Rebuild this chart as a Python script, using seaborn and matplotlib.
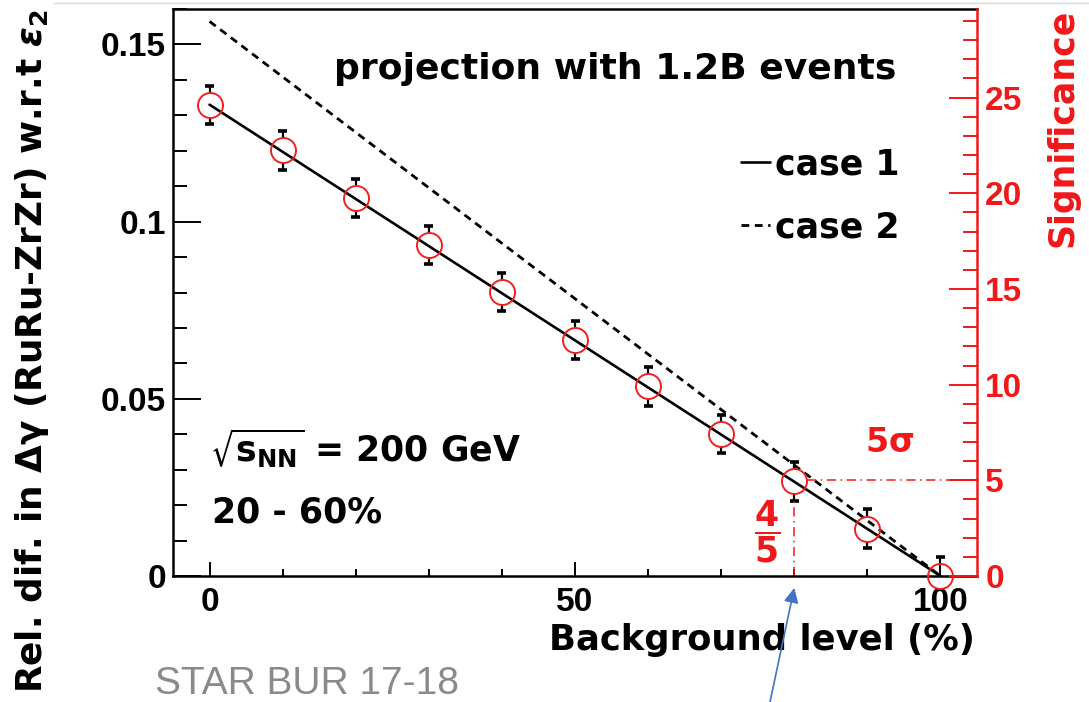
import numpy as np
import pandas as pd
import matplotlib
matplotlib.use("Agg")
import matplotlib.pyplot as plt
import seaborn as sns
from matplotlib.ticker import MultipleLocator, FuncFormatter
from matplotlib.lines import Line2D

# Background level (%) and the relative difference of Delta-gamma
background = [0, 10, 20, 30, 40, 50, 60, 70, 80, 90, 100]
rel_diff = [0.1330, 0.1201, 0.1067, 0.0934, 0.0801, 0.0666, 0.0535, 0.0401, 0.0267, 0.0134, 0.0]
rel_err = [0.0054, 0.0054, 0.0054, 0.0054, 0.0054, 0.0054, 0.0054, 0.0054, 0.0054, 0.0054, 0.0054]

# Projection lines for the two scenarios (end points)
case_x = [0, 100]
case1_y = [0.1330, 0.0]
case2_y = [0.1565, 0.0]
case_labels = ["case 1", "case 2"]

# One unit of significance expressed on the left axis
sigma_unit = 0.0054
five_sigma = 5
threshold_bg = 80

x_range = (-5, 105)
y_range = (0, 0.16)

sns.set_style("ticks")
plt.rcParams["font.family"] = ["DejaVu Sans"]
plt.rcParams["font.weight"] = "bold"
plt.rcParams["mathtext.fontset"] = "dejavusans"
for key in ("text.color", "axes.labelcolor", "xtick.color", "ytick.color",
            "xtick.labelcolor", "ytick.labelcolor"):
    plt.rcParams[key] = "black"

fig = plt.figure(figsize=(10.89, 7.02), dpi=100)
ax = fig.add_axes([173 / 1089, 1 - 576 / 702, (977 - 173) / 1089, (576 - 9) / 702])
ax.set_xlim(*x_range)
ax.set_ylim(*y_range)

df = pd.DataFrame({"bg": background, "val": rel_diff, "err": rel_err})
lines = pd.DataFrame({"bg": case_x * 2, "val": case1_y + case2_y,
                      "case": [case_labels[0]] * 2 + [case_labels[1]] * 2})

sns.lineplot(data=lines[lines["case"] == case_labels[0]], x="bg", y="val", ax=ax,
             color="black", lw=1.9, label=case_labels[0])
sns.lineplot(data=lines[lines["case"] == case_labels[1]], x="bg", y="val", ax=ax,
             color="black", lw=2.0, linestyle=(0, (2.8, 2.0)), label=case_labels[1])

# Error bars, interrupted where the open marker sits
ms = 18
ax_h_px = ax.get_position().height * fig.get_figheight() * fig.dpi
ax_w_px = ax.get_position().width * fig.get_figwidth() * fig.dpi
gap = (ms / 2 * fig.dpi / 72) / ax_h_px * (y_range[1] - y_range[0])
cap = 4.5 / ax_w_px * (x_range[1] - x_range[0])
x = np.array(background, float)
y = np.array(rel_diff)
e = np.array(rel_err)
ax.vlines(x, y + gap, y + e, color="black", lw=1.6)
ax.vlines(x, y - e, y - gap, color="black", lw=1.6)
ax.hlines(y + e, x - cap, x + cap, color="black", lw=2.6)
ax.hlines(y - e, x - cap, x + cap, color="black", lw=2.6)

sns.lineplot(data=df, x="bg", y="val", ax=ax, linestyle="", marker="o",
             markersize=ms, markerfacecolor="none", markeredgecolor="#f02020",
             markeredgewidth=1.4, clip_on=False, zorder=5, legend=False)

# Right axis: significance
ax2 = ax.twinx()
ax2.set_ylim(y_range[0] / sigma_unit, y_range[1] / sigma_unit)

red = "#f01818"
idx = background.index(threshold_bg)
thr_val = rel_diff[idx]
mk_r = (ms / 2 * fig.dpi / 72) / ax_w_px * (x_range[1] - x_range[0])
ax2.plot([threshold_bg + mk_r, x_range[1]], [five_sigma, five_sigma], color=red,
         lw=1.1, linestyle=(0, (6, 3, 1, 3)))
ax.plot([threshold_bg, threshold_bg], [0, thr_val - rel_err[idx]], color=red,
        lw=1.1, linestyle=(0, (6, 3, 1, 3)))

# Axis styling
for a in (ax, ax2):
    a.set_xlim(*x_range)
for s in ("left", "bottom", "top"):
    ax.spines[s].set_linewidth(1.8)
    ax.spines[s].set_color("black")
ax.spines["right"].set_visible(False)
ax2.spines["left"].set_visible(False)
ax2.spines["top"].set_visible(False)
ax2.spines["bottom"].set_visible(False)
ax2.spines["right"].set_color(red)
ax2.spines["right"].set_linewidth(1.8)

ax.xaxis.set_major_locator(MultipleLocator(50))
ax.xaxis.set_minor_locator(MultipleLocator(10))
ax.yaxis.set_major_locator(MultipleLocator(0.05))
ax.yaxis.set_minor_locator(MultipleLocator(0.01))
ax2.yaxis.set_major_locator(MultipleLocator(5))
ax2.yaxis.set_minor_locator(MultipleLocator(1))
fmt = FuncFormatter(lambda v, p: f"{v:g}")
ax.xaxis.set_major_formatter(fmt)
ax.yaxis.set_major_formatter(fmt)
ax2.yaxis.set_major_formatter(fmt)

ax.tick_params(axis="y", which="major", direction="in", length=20, width=1.4,
               labelsize=24, pad=5, labelfontfamily="Liberation Sans")
ax.tick_params(axis="y", which="minor", direction="in", length=10, width=1.4)
ax.tick_params(axis="x", which="major", direction="in", length=10, width=1.4,
               labelsize=24, pad=8, labelfontfamily="Liberation Sans")
ax.tick_params(axis="x", which="minor", direction="in", length=5, width=1.4)
ax2.tick_params(axis="y", which="major", direction="in", length=20, width=1.4,
                labelsize=24, pad=6, color=red, labelcolor=red,
                labelfontfamily="Liberation Sans")
ax2.tick_params(axis="y", which="minor", direction="in", length=10, width=1.4, color=red)
for lab in ax.get_xticklabels() + ax.get_yticklabels() + ax2.get_yticklabels():
    lab.set_fontweight("bold")

ax.set_xlabel("Background level (%)", fontsize=25.5, fontweight="bold", loc="right")
ax.xaxis.set_label_coords(0.9975, -0.083)
ax.xaxis.label.set_va("top")
ax.set_ylabel(r"Rel. dif. in $\mathrm{\Delta\gamma}$ (RuRu-ZrZr) w.r.t $\epsilon_2$",
              fontsize=25.8, fontweight="bold", loc="top")
ax.yaxis.set_label_coords(-0.152, 1.0)
ax2.set_ylabel("Significance", fontsize=25, fontweight="bold", color=red, loc="top")
ax2.yaxis.set_label_coords(1.0846, 1.0)

# Legend
handles, labels = ax.get_legend_handles_labels()
ax.legend(handles[:2], labels[:2], loc="upper left", bbox_to_anchor=(0.7065, 0.7557),
          frameon=False, borderpad=0, borderaxespad=0, handlelength=0.83,
          handletextpad=0.15, labelspacing=0.83,
          prop={"family": "DejaVu Sans", "weight": "bold", "size": 25})

# Annotations
ax.text(0.55, 0.8765, "projection with 1.2B events", transform=ax.transAxes,
        ha="center", va="baseline", fontsize=26, fontweight="bold")
ax.text(0.046, 0.201, r"$\sqrt{\mathbf{s}_{\mathbf{NN}}}$ = 200 GeV", transform=ax.transAxes,
        ha="left", va="baseline", fontsize=25, fontweight="bold")
ax.text(0.0485, 0.095, "20 - 60%", transform=ax.transAxes,
        ha="left", va="baseline", fontsize=25, fontweight="bold")
ax.text(89.7, 0.035, r"5$\mathrm{\sigma}$", color=red, ha="left", va="baseline",
        fontsize=24, fontweight="bold")
ax.text(76.3, 0.0124, r"$\dfrac{\mathbf{4}}{\mathbf{5}}$", color=red, ha="center",
        va="center", fontsize=25)

fig.text(155 / 1089, 1 - 694 / 702, "STAR BUR 17-18", color="#8a8a8a",
         fontsize=28, fontweight="normal", family="Liberation Sans",
         ha="left", va="baseline")

ax.annotate("", xy=(threshold_bg, -0.021), xycoords=("data", "axes fraction"),
            xytext=(770 / 1089, 0.0), textcoords="figure fraction",
            arrowprops=dict(arrowstyle="-|>", color="#4472c4", lw=1.2,
                            mutation_scale=22, shrinkA=0, shrinkB=0),
            annotation_clip=False)

fig.add_artist(Line2D([0.05, 1.0], [1 - 3 / 702, 1 - 3 / 702], color="#d9d9d9", lw=1.0,
                      transform=fig.transFigure))

fig.savefig("out.png", dpi=100)
